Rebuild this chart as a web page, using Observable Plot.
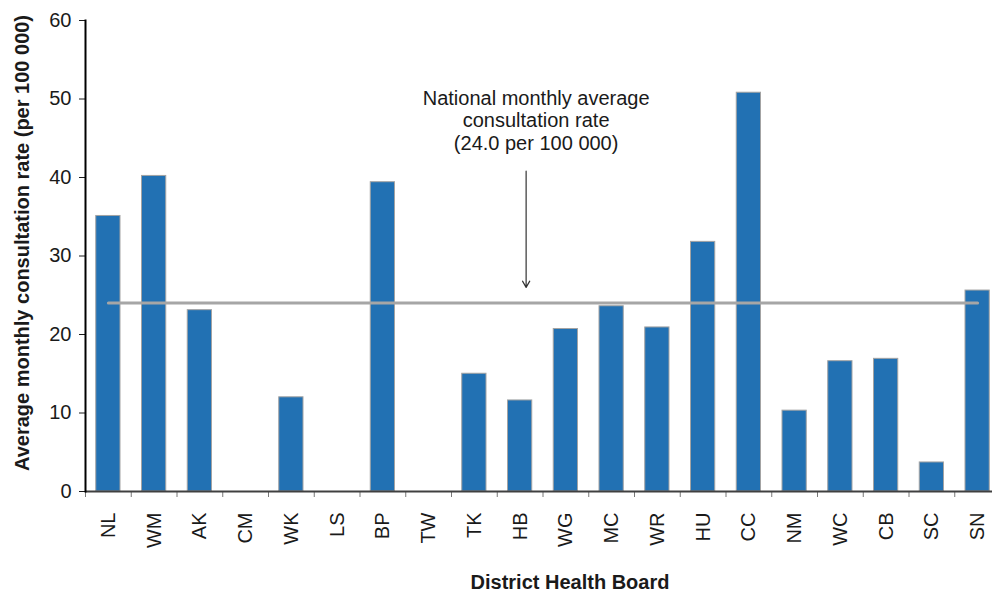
<!DOCTYPE html>
<html>
<head>
<meta charset="utf-8">
<script src="https://cdn.jsdelivr.net/npm/d3@7"></script>
<script src="https://cdn.jsdelivr.net/npm/@observablehq/plot@0.6"></script>
<style>
  html, body { margin: 0; padding: 0; background: #fff; overflow: hidden; }
  #chart svg { overflow: hidden; }
</style>
</head>
<body>
<div id="chart"></div>
<script>
const categories = ["NL","WM","AK","CM","WK","LS","BP","TW","TK","HB","WG","MC","WR","HU","CC","NM","WC","CB","SC","SN"];
const rates = [35.1, 40.2, 23.1, 0, 12.0, 0, 39.4, 0, 15.0, 11.6, 20.7, 23.6, 20.9, 31.8, 50.8, 10.3, 16.6, 16.9, 3.7, 25.6];
const nationalAverage = 24.0;
const yTicks = [0, 10, 20, 30, 40, 50, 60];
const xTitle = "District Health Board";
const yTitle = "Average monthly consultation rate (per 100 000)";
const noteText = "National monthly average\nconsultation rate\n(24.0 per 100 000)";

const data = categories.map((c, i) => ({board: c, rate: rates[i]}));
const step = (1000 - 85) / categories.length;

const chart = Plot.plot({
  width: 992,
  height: 593,
  marginLeft: 85,
  marginRight: 0,
  marginTop: 20,
  marginBottom: 102,
  style: {fontFamily: "'Liberation Sans', Arial, sans-serif", fontSize: "20px", color: "#1a1a1a", background: "#fff"},
  x: {type: "band", domain: categories, range: [85, 1000], paddingInner: 0.47, paddingOuter: 0.235, round: false, label: null},
  y: {domain: [0, 60], label: null},
  marks: [
    Plot.barY(data, {x: "board", y: "rate", filter: d => d.rate > 0, fill: "#2271b3", stroke: "#a3a3a3", strokeWidth: 1}),
    Plot.lineY([{board: categories[0], v: nationalAverage}, {board: categories[categories.length - 1], v: nationalAverage}], {x: "board", y: "v", stroke: "#a6a6a6", strokeWidth: 3}),
    Plot.arrow([{board: "HB", y1: 40.8, y2: 26.0}], {x: "board", y1: "y1", y2: "y2", dx: 6, stroke: "#333", strokeWidth: 1.2, headLength: 9, bend: 0}),
    Plot.text([noteText], {x: () => "HB", y: () => 47.3, dx: 16, text: d => d, fontSize: 20, lineHeight: 1.12, fill: "#1a1a1a", textAnchor: "middle"}),
    Plot.axisY({ticks: yTicks, tickSize: 6, tickPadding: 8, label: null, tickFormat: d => String(d), fontSize: 20}),
    Plot.axisX({tickSize: 0, tickRotate: -90, tickPadding: 21, label: null, fontSize: 20}),
    Plot.axisX({tickSize: 6, text: null, label: null, dx: -step / 2, stroke: "#777"}),
    Plot.ruleY([0], {stroke: "#404040", strokeWidth: 2}),
    Plot.frame({anchor: "left", stroke: "#000", strokeWidth: 2}),
    Plot.text([xTitle], {frameAnchor: "bottom", dx: 31, dy: 97, text: d => d, fontWeight: "bold", fontSize: 20, fill: "#1a1a1a"}),
    Plot.text([yTitle], {frameAnchor: "left", textAnchor: "middle", dx: -63, dy: -13, rotate: -90, text: d => d, fontWeight: "bold", fontSize: 20, fill: "#1a1a1a"})
  ]
});
document.getElementById("chart").appendChild(chart);
</script>
</body>
</html>
